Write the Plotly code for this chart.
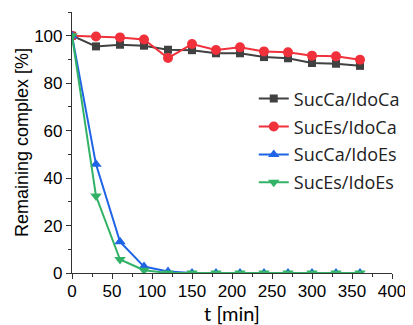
import plotly.graph_objects as go

t_min = [0, 30, 60, 90, 120, 150, 180, 210, 240, 270, 300, 330, 360]
succa_idoca = [100, 95.5, 96.2, 95.8, 94.1, 93.9, 92.6, 92.6, 91.0, 90.5, 88.5, 88.2, 87.3]
suces_idoca = [100, 99.7, 99.3, 98.4, 90.6, 96.5, 94.0, 95.1, 93.4, 93.0, 91.6, 91.3, 89.9]
succa_idoes = [100, 45.8, 13.2, 2.7, 0.6, 0, 0, 0, 0, 0, 0, 0, 0]
suces_idoes = [100, 32.4, 5.7, 1.2, 0, 0, 0, 0, 0, 0, 0, 0, 0]

series_names = ["SucCa/IdoCa", "SucEs/IdoCa", "SucCa/IdoEs", "SucEs/IdoEs"]
series_vals = [succa_idoca, suces_idoca, succa_idoes, suces_idoes]
colors = ["#414141", "#f0303a", "#1f64e6", "#32b266"]
symbols = ["square", "circle", "triangle-up", "triangle-down"]
sizes = [8, 10, 10, 10]

fig = go.Figure()
for i, (name, vals) in enumerate(zip(series_names, series_vals)):
    fig.add_trace(go.Scatter(
        x=t_min, y=vals, name=name, mode="lines+markers",
        line=dict(color=colors[i], width=2),
        marker=dict(symbol=symbols[i], size=sizes[i], color=colors[i]),
        legendgroup=name,
    ))

# the page body has an 8px default margin, so the figure is sized 8px smaller
axis_font = dict(family="Liberation Sans, Arial, sans-serif", size=17, color="black")
fig.update_layout(
    width=405, height=317,
    margin=dict(l=64, r=21, t=4, b=52, autoexpand=False),
    plot_bgcolor="white", paper_bgcolor="white",
    showlegend=True,
    legend=dict(
        x=0.568, y=0.738, xanchor="left", yanchor="top",
        font=dict(family="Open Sans, Lato, sans-serif", size=18, color="#222222"),
        bgcolor="rgba(0,0,0,0)", tracegroupgap=1.5,
    ),
    xaxis=dict(
        range=[0, 400], tick0=0, dtick=50, automargin=False,
        showgrid=False, zeroline=False,
        showline=True, linecolor="#333333", linewidth=1.2,
        ticks="outside", ticklen=5, tickcolor="#333333",
        minor=dict(ticks="outside", ticklen=3, dtick=25, tickcolor="#333333"),
        tickfont=axis_font, ticklabelstandoff=-3,
        title=dict(text="t [min]", font=dict(family="Lato, Open Sans, sans-serif", size=20, color="black"), standoff=2),
    ),
    yaxis=dict(
        range=[0, 110], tick0=0, dtick=20, automargin=False,
        showgrid=False, zeroline=False,
        showline=True, linecolor="#333333", linewidth=1.2,
        ticks="outside", ticklen=5, tickcolor="#333333",
        minor=dict(ticks="outside", ticklen=3, dtick=10, tickcolor="#333333"),
        tickfont=axis_font,
        title=dict(text="Remaining complex [%]", font=dict(family="Liberation Sans, Arial, sans-serif", size=18, color="black"), standoff=0),
    ),
)

fig.write_html("out.html")
